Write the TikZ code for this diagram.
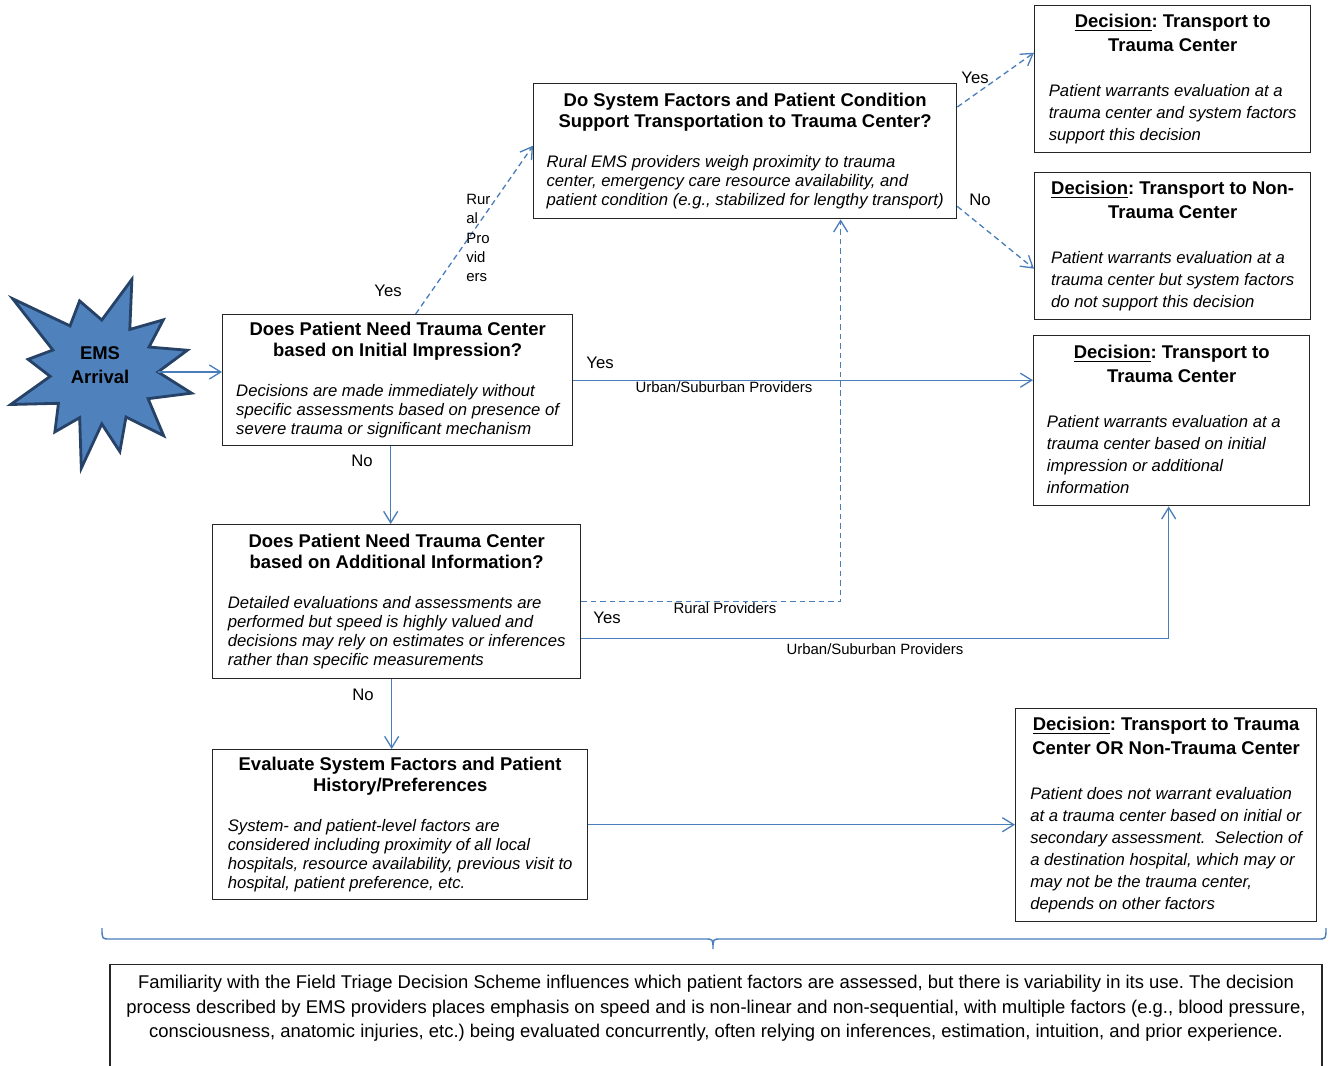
\documentclass[tikz,border=0pt]{standalone}
\usepackage{fontspec}
\setmainfont{Liberation Sans}
\usetikzlibrary{arrows.meta,positioning,calc}
\definecolor{flowblue}{RGB}{74,126,187}
\definecolor{starfill}{RGB}{79,129,189}
\definecolor{starline}{RGB}{38,66,102}
\frenchspacing
\newcommand{\asktext}[2]{%
  \begin{tabular}{@{}c@{}}
  {\fontsize{10.5}{12}\selectfont\bfseries\begin{tabular}[b]{@{}c@{}}#1\end{tabular}}\\[10.6pt]
  {\fontsize{9.5}{10.8}\selectfont\itshape\begin{tabular}[t]{@{}l@{}}#2\end{tabular}}
  \end{tabular}}
\newcommand{\dectext}[2]{%
  \begin{tabular}{@{}c@{}}
  {\fontsize{10.5}{13.6}\selectfont\bfseries\begin{tabular}[b]{@{}c@{}}#1\end{tabular}}\\[13.4pt]
  {\fontsize{9.5}{12.5}\selectfont\itshape\begin{tabular}[t]{@{}l@{}}#2\end{tabular}}
  \end{tabular}}
\newcommand{\decword}{\underline{Decision}}
\begin{document}
\begin{tikzpicture}[x=0.02cm, y=-0.02cm,
    askbox/.style={draw=black!85, line width=0.8pt, anchor=north west, inner sep=0pt},
    flow/.style={draw=flowblue, line width=0.75pt, -{Straight Barb[length=6.5pt,width=8pt]}},
    dflow/.style={flow, dash pattern=on 3.2pt off 2.2pt},
    tag/.style={font=\fontsize{9.5}{11}\selectfont, inner sep=0pt},
    provtag/.style={font=\fontsize{8.5}{11}\selectfont, inner sep=0pt}]
    \useasboundingbox (0,0) rectangle (1330,1066);
    \begin{scope}[shift={(100,372)}]
        \filldraw[fill=starfill, draw=starline, line width=1.6pt, line join=miter] (-140:114) \foreach \a/\r in {-123/55, -106/74, -88/52, -71/98, -55/52, -39.5/82, -27/55, -14/90, 0/58, 13/94, 29/55, 45/90, 60/52, 76/82, 88/52, 101/98, 114/50, 127/75, 143/52, 160/95, 175/50, 190/73, 205/52} { -- (\a:\r) } -- cycle;
    \end{scope}
    \node[circle, minimum size=2.32cm, inner sep=0pt, align=center, font=\fontsize{10.5}{13.6}\selectfont\bfseries] (arrival) at (100,365) {EMS\\Arrival};
    \node[askbox, minimum width=7cm, minimum height=2.62cm] (init) at (222,314) {\asktext{Does Patient Need Trauma Center\\based on Initial Impression?}{Decisions are made immediately without\\specific assessments based on presence of\\severe trauma or significant mechanism}};
    \node[askbox, minimum width=8.46cm, minimum height=2.7cm] (sysq) at (533,83) {\asktext{Do System Factors and Patient Condition\\Support Transportation to Trauma Center?}{Rural EMS providers weigh proximity to trauma\\center, emergency care resource availability, and\\patient condition (e.g., stabilized for lengthy transport)}};
    \node[askbox, minimum width=7.36cm, minimum height=3.08cm] (addq) at (212,524) {\asktext{Does Patient Need Trauma Center\\based on Additional Information?}{Detailed evaluations and assessments are\\performed but speed is highly valued and\\decisions may rely on estimates or inferences\\rather than specific measurements}};
    \node[askbox, minimum width=7.5cm, minimum height=3cm] (evalq) at (212,749) {\asktext{Evaluate System Factors and Patient\\History/Preferences}{System- and patient-level factors are\\considered including proximity of all local\\hospitals, resource availability, previous visit to\\hospital, patient preference, etc.}};
    \node[askbox, minimum width=5.52cm, minimum height=2.94cm] (dec1) at (1034,5) {\dectext{\decword: Transport to\\Trauma Center}{Patient warrants evaluation at a\\trauma center and system factors\\support this decision}};
    \node[askbox, minimum width=5.52cm, minimum height=2.94cm] (dec2) at (1034,172) {\dectext{\decword: Transport to Non-\\Trauma Center}{Patient warrants evaluation at a\\trauma center but system factors\\do not support this decision\hspace*{1.1em}}};
    \node[askbox, minimum width=5.52cm, minimum height=3.4cm] (dec3) at (1033,335) {\dectext{\decword: Transport to\\Trauma Center}{Patient warrants evaluation at a\\trauma center based on initial\\impression or additional\\information\hspace*{10em}}};
    \node[askbox, minimum width=6.02cm, minimum height=4.26cm] (dec4) at (1015,708) {\dectext{\decword: Transport to Trauma\\Center OR Non-Trauma Center}{Patient does not warrant evaluation\\at a trauma center based on initial or\\secondary assessment.\ \ Selection of\\a destination hospital, which may or\\may not be the trauma center,\\depends on other factors}};
    \node[draw=black!85, line width=0.8pt, anchor=north, minimum width=24.24cm, inner xsep=0pt, inner ysep=4pt, font=\fontsize{10.5}{13.9}\selectfont] (summary) at (716,964) {\begin{tabular}{@{}c@{}}Familiarity with the Field Triage Decision Scheme influences which patient factors are assessed, but there is variability in its use. The decision\\process described by EMS providers places emphasis on speed and is non-linear and non-sequential, with multiple factors (e.g., blood pressure,\\consciousness, anatomic injuries, etc.) being evaluated concurrently, often relying on inferences, estimation, intuition, and prior experience.\\[40pt]\end{tabular}};
    \draw[draw=flowblue, line width=0.8pt] (102,928) .. controls (102,939) .. (110,939) -- (705,939) .. controls (713,939) .. (713,949) .. controls (713,939) .. (721,939) -- (1318,939) .. controls (1326,939) .. (1326,928);
    \draw[flow] ([yshift=-0.14cm]arrival.east) -- ([yshift=-0.14cm]arrival.east -| init.west);
    \draw[dflow] ([xshift=0.36cm]init.north) -- ([yshift=0.11cm]sysq.west);
    \draw[flow] (init.east) -- (init.east -| dec3.west);
    \draw[flow] ([xshift=-0.14cm]init.south) -- ([xshift=-0.14cm]init.south |- addq.north);
    \draw[dflow] ([yshift=-0.48cm]sysq.north east) -- ([yshift=0.53cm]dec1.west);
    \draw[dflow] ([yshift=0.26cm]sysq.south east) -- ([yshift=-0.45cm]dec2.west);
    \draw[dflow] (addq.east) -| ([xshift=1.91cm]sysq.south);
    \draw[flow] ([yshift=-0.74cm]addq.east) -| ([xshift=-0.06cm]dec3.south);
    \draw[flow] ([xshift=-0.1cm]addq.south) -- ([xshift=-0.1cm]addq.south |- evalq.north);
    \draw[flow] (evalq.east) -- (evalq.east -| dec4.west);
    \node[tag] (yesrural) at (388,291) {Yes};
    \node[provtag, align=left, anchor=north west] (ruraltag) at (466,194) {Rur\\al\\Pro\\vid\\ers};
    \node[tag] (yesinit) at (600,363) {Yes};
    \node[provtag] (urbaninit) at (724,387) {Urban/Suburban Providers};
    \node[tag] (noinit) at (362,461) {No};
    \node[tag] (yessys) at (975,78) {Yes};
    \node[tag] (nosys) at (980,200) {No};
    \node[provtag] (ruraladd) at (725,608) {Rural Providers};
    \node[tag] (yesadd) at (607,618) {Yes};
    \node[provtag] (urbanadd) at (875,649) {Urban/Suburban Providers};
    \node[tag] (noadd) at (363,695) {No};
\end{tikzpicture}
\end{document}
